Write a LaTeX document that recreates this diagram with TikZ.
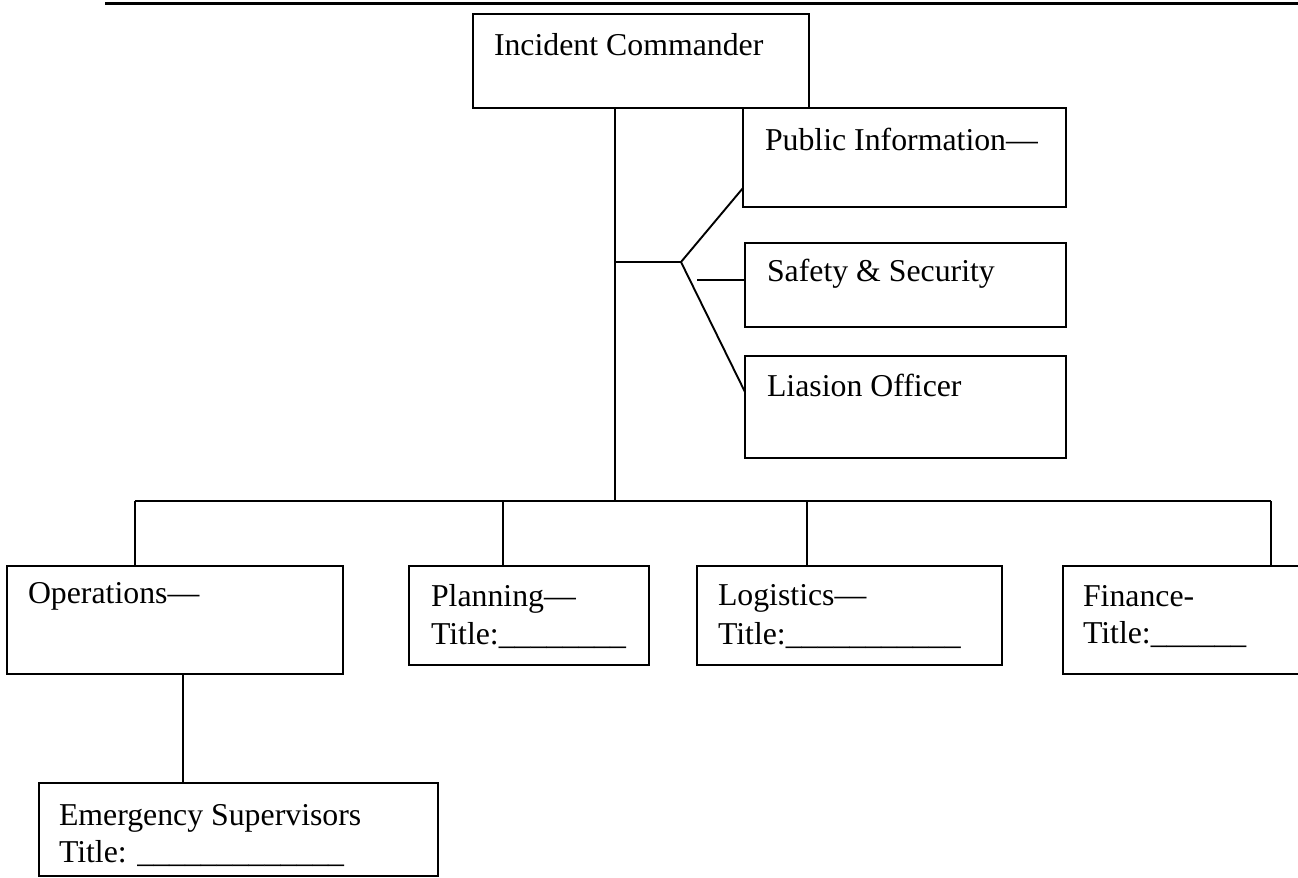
\documentclass[tikz,border=0pt]{standalone}
\usepackage{fontspec}
\setmainfont{Liberation Serif}
\begin{document}
\begin{tikzpicture}[x=0.5pt,y=-0.5pt,
  box/.style={draw=black,line width=0.95pt,rectangle,anchor=north west,inner sep=0pt,outer sep=0pt},
  lbl/.style={anchor=base west,inner sep=0pt,outer sep=0pt,font=\fontsize{15.9}{18}\selectfont},
  conn/.style={draw=black,line width=0.95pt}]
\useasboundingbox (0,0) rectangle (1298,878);
% top rule
\coordinate (ruleL) at (105,3);
\coordinate (ruleR) at (1298,3);
\draw[line width=1.5pt] (ruleL) -- (ruleR);
% boxes
\node[box,minimum width=168pt,minimum height=47pt] (ic) at (473,14) {};
\node[box,minimum width=161.5pt,minimum height=49.5pt] (pi) at (743,108) {};
\node[box,minimum width=160.5pt,minimum height=42pt] (ss) at (745,243) {};
\node[box,minimum width=160.5pt,minimum height=51pt] (lo) at (745,356) {};
\node[box,minimum width=168pt,minimum height=54pt] (ops) at (7,566) {};
\node[box,minimum width=120pt,minimum height=49.5pt] (pl) at (409,566) {};
\node[box,minimum width=152.5pt,minimum height=49.5pt] (lg) at (697,566) {};
\node[box,minimum width=123.5pt,minimum height=54pt] (fi) at (1063,566) {};
\node[box,minimum width=199.5pt,minimum height=46.5pt] (es) at (39,783) {};
% texts
\node[lbl] (ict) at (494,55) {Incident Commander};
\node[lbl] (pit) at (765,150) {Public Information—};
\node[lbl] (sst) at (767,281) {Safety \& Security};
\node[lbl] (lot) at (767,396) {Liasion Officer};
\node[lbl] (opst) at (28,603) {Operations—};
\node[lbl] (plt1) at (431,606) {Planning—};
\node[lbl] (plt2) at (431,644) {Title:\_\_\_\_\_\_\_\_};
\node[lbl] (lgt1) at (718,605) {Logistics—};
\node[lbl] (lgt2) at (718,644) {Title:\_\_\_\_\_\_\_\_\_\_\_};
\node[lbl] (fit1) at (1083,606) {Finance-};
\node[lbl] (fit2) at (1083,643) {Title:\_\_\_\_\_\_};
\node[lbl] (est1) at (59,825) {Emergency Supervisors};
\node[lbl] (est2) at (59,862) {Title: \_\_\_\_\_\_\_\_\_\_\_\_\_};
% connectors
\coordinate (trunkTop) at (615,108);
\coordinate (bus) at (615,501);
\coordinate (branch) at (615,262);
\coordinate (fork) at (681,262);
\coordinate (ssstart) at (697,280);
\coordinate (busL) at (135,501);
\coordinate (busR) at (1271,501);
\draw[conn] (trunkTop) -- (bus);
\draw[conn] (busL) -- (busR);
\draw[conn] (branch) -- (fork);
\draw[conn] (fork) -- (pi.west |- 0,188);
\draw[conn] (fork) -- (lo.west |- 0,392);
\draw[conn] (ssstart) -- (ss.west |- 0,280);
\draw[conn] (busL) -- (ops.north -| busL);
\draw[conn] (503,501) -- (pl.north -| 503,0);
\draw[conn] (807,501) -- (lg.north -| 807,0);
\draw[conn] (busR) -- (fi.north -| busR);
\draw[conn] (ops.south -| 183,0) -- (es.north -| 183,0);
\end{tikzpicture}
\end{document}
